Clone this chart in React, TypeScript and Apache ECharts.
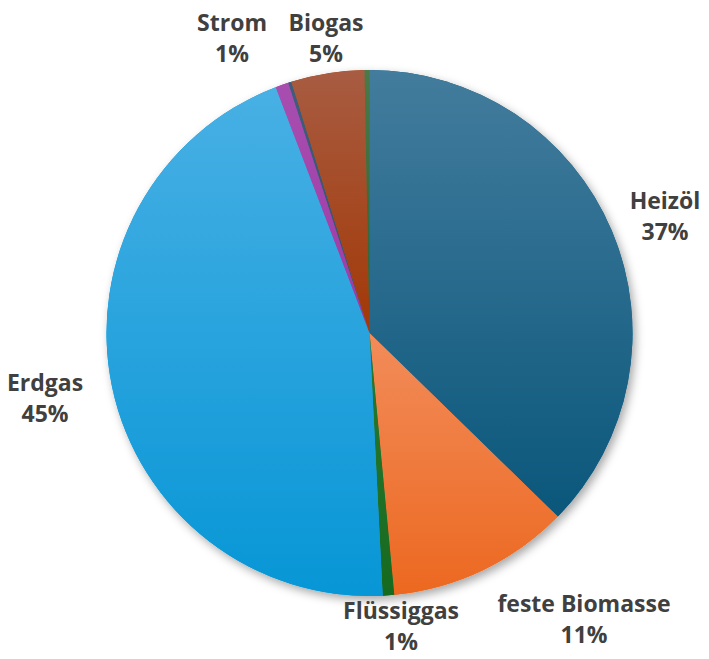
import React, { useEffect, useRef } from "react";
import * as echarts from "echarts";

const categories = ["Heizöl", "feste Biomasse", "Flüssiggas", "Erdgas", "Strom", "Sonstige", "Biogas", "Solarthermie"];
const values = [37.3, 11.2, 0.7, 45.0, 0.8, 0.2, 4.5, 0.3];
const showLabel = [true, true, true, true, true, false, true, false];
const colorTop = ["#437c9d", "#f28c5a", "#2a7a30", "#48b0e4", "#a84eb0", "#405e7c", "#a85c42", "#4a7a4a"];
const colorBottom = ["#0a577b", "#ec6820", "#166a20", "#0796d6", "#9c3aa6", "#34506c", "#a23806", "#2e5e2e"];

const CX = 369.5;
const CY = 333;
const R = 263;
const labelCenters: [number, number][] = [
  [665, 215],
  [584, 618],
  [401, 625],
  [45, 397],
  [232, 37],
  [0, 0],
  [326, 37],
  [0, 0],
];

export default function App() {
  const ref = useRef<HTMLDivElement>(null);
  useEffect(() => {
    if (!ref.current) return;
    const chart = echarts.init(ref.current, undefined, { renderer: "svg" });
    const data = categories.map((name, i) => ({
      name,
      value: values[i],
      label: { show: showLabel[i] },
      itemStyle: {
        color: new echarts.graphic.LinearGradient(0, 0, 0, 1, [
          { offset: 0, color: colorTop[i] },
          { offset: 1, color: colorBottom[i] },
        ]),
      },
    }));
    const shadowData = categories.map((name, i) => ({
      name,
      value: values[i],
      itemStyle: { color: colorBottom[i] },
    }));
    chart.setOption({
      animation: false,
      backgroundColor: "#ffffff",
      series: [
        {
          type: "pie",
          silent: true,
          center: [CX, CY],
          radius: R,
          startAngle: 90,
          clockwise: true,
          z: 1,
          label: { show: false },
          labelLine: { show: false },
          itemStyle: {
            borderWidth: 0,
            shadowBlur: 10,
            shadowOffsetX: 3,
            shadowOffsetY: 4,
            shadowColor: "rgba(0,0,0,0.35)",
          },
          data: shadowData,
        },
        {
          type: "pie",
          center: [CX, CY],
          radius: R,
          startAngle: 90,
          clockwise: true,
          z: 2,
          itemStyle: { borderWidth: 0 },
          labelLine: { show: false },
          label: {
            position: "outside",
            formatter: (p: any) => `${p.name}\n${Math.round(p.value)}%`,
            fontFamily: "Open Sans",
            fontWeight: "bold",
            fontSize: 23,
            lineHeight: 31,
            color: "#404040",
            align: "center",
            overflow: "none",
            width: 300,
          },
          labelLayout: (params: any) => {
            const pos = labelCenters[params.dataIndex];
            return {
              x: pos[0],
              y: pos[1],
              align: "center",
              verticalAlign: "middle",
            };
          },
          data,
        },
      ],
    });
    return () => chart.dispose();
  }, []);
  return (
    <div
      ref={ref}
      style={{ position: "absolute", left: 0, top: 0, width: 709, height: 659 }}
    />
  );
}
